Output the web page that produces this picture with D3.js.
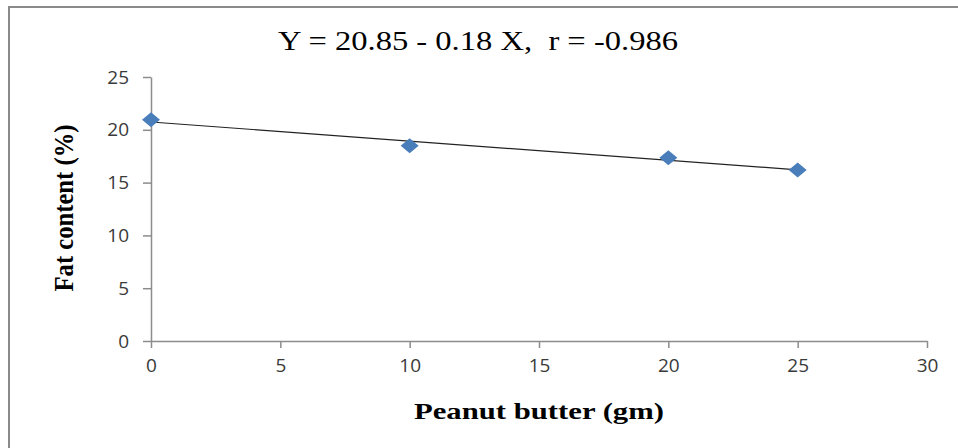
<!DOCTYPE html>
<meta charset="utf-8">
<style>
    body { margin: 0; background: #fff; }
    .tick text { font-family: 'Open Sans', sans-serif; font-size: 19px; fill: #3a3a3a; }
    .axis path, .axis line { stroke: #8c8c8c; stroke-width: 1.5; }
    .caption { font-family: 'Liberation Serif', serif; fill: #000; white-space: pre; }
</style>
<svg width="958" height="448"></svg>
<script src="https://d3js.org/d3.v7.min.js"></script>
<script>
    // peanut butter added (gm) vs fat content (%)
    var butter = [0, 10, 20, 25];
    var fat = [20.95, 18.5, 17.35, 16.2];
    var xTicks = [0, 5, 10, 15, 20, 25, 30];
    var yTicks = [0, 5, 10, 15, 20, 25];
    var title = "Y = 20.85 - 0.18 X,  r = -0.986";

    var svg = d3.select("svg");
    var margin = {top: 77, right: 31, bottom: 107, left: 151};
    var width = 958 - margin.left - margin.right,
        height = 448 - margin.top - margin.bottom;

    // outer frame (only top and left edges are in view)
    svg.append("rect")
        .attr("x", 9).attr("y", 7)
        .attr("width", 980).attr("height", 480)
        .attr("fill", "none")
        .attr("stroke", "#8a8a8a")
        .attr("stroke-width", 2);

    var x = d3.scaleLinear().domain([0, 30]).range([0, width]);
    var y = d3.scaleLinear().domain([0, 25]).range([height, 0]);

    var g = svg.append("g")
        .attr("transform", "translate(" + margin.left + "," + margin.top + ")");

    g.append("g")
        .attr("class", "axis")
        .attr("transform", "translate(0," + height + ")")
        .call(d3.axisBottom(x).tickValues(xTicks).tickSize(7).tickSizeOuter(0).tickPadding(11));

    g.append("g")
        .attr("class", "axis")
        .call(d3.axisLeft(y).tickValues(yTicks).tickSize(8).tickSizeOuter(0).tickPadding(14));

    // least squares trend line through the points
    var mx = d3.mean(butter), my = d3.mean(fat);
    var sxy = d3.sum(butter, function(d, i) { return (d - mx) * (fat[i] - my); });
    var sxx = d3.sum(butter, function(d) { return (d - mx) * (d - mx); });
    var slope = sxy / sxx, icpt = my - slope * mx;
    var ends = d3.extent(butter);

    g.append("line")
        .attr("x1", x(ends[0])).attr("y1", y(icpt + slope * ends[0]))
        .attr("x2", x(ends[1])).attr("y2", y(icpt + slope * ends[1]))
        .attr("stroke", "#222")
        .attr("stroke-width", 1.2);

    var diamond = "M0,-7.5L9,0L0,7.5L-9,0Z";
    g.selectAll(".pt")
        .data(butter)
        .enter().append("path")
        .attr("class", "pt")
        .attr("d", diamond)
        .attr("fill", "#4a7ebb")
        .attr("transform", function(d, i) { return "translate(" + x(d) + "," + y(fat[i]) + ")"; });

    svg.append("text")
        .attr("class", "caption")
        .attr("x", 478).attr("y", 50)
        .attr("text-anchor", "middle")
        .attr("textLength", 400)
        .attr("lengthAdjust", "spacingAndGlyphs")
        .style("font-size", "27px")
        .text(title);

    svg.append("text")
        .attr("class", "caption")
        .attr("transform", "translate(73,208) rotate(-90)")
        .attr("text-anchor", "middle")
        .attr("textLength", 167)
        .attr("lengthAdjust", "spacingAndGlyphs")
        .style("font-size", "27px")
        .style("font-weight", "bold")
        .text("Fat content (%)");

    svg.append("text")
        .attr("class", "caption")
        .attr("x", margin.left + width / 2).attr("y", 419)
        .attr("text-anchor", "middle")
        .attr("textLength", 250)
        .attr("lengthAdjust", "spacingAndGlyphs")
        .style("font-size", "24px")
        .style("font-weight", "bold")
        .text("Peanut butter (gm)");
</script>
